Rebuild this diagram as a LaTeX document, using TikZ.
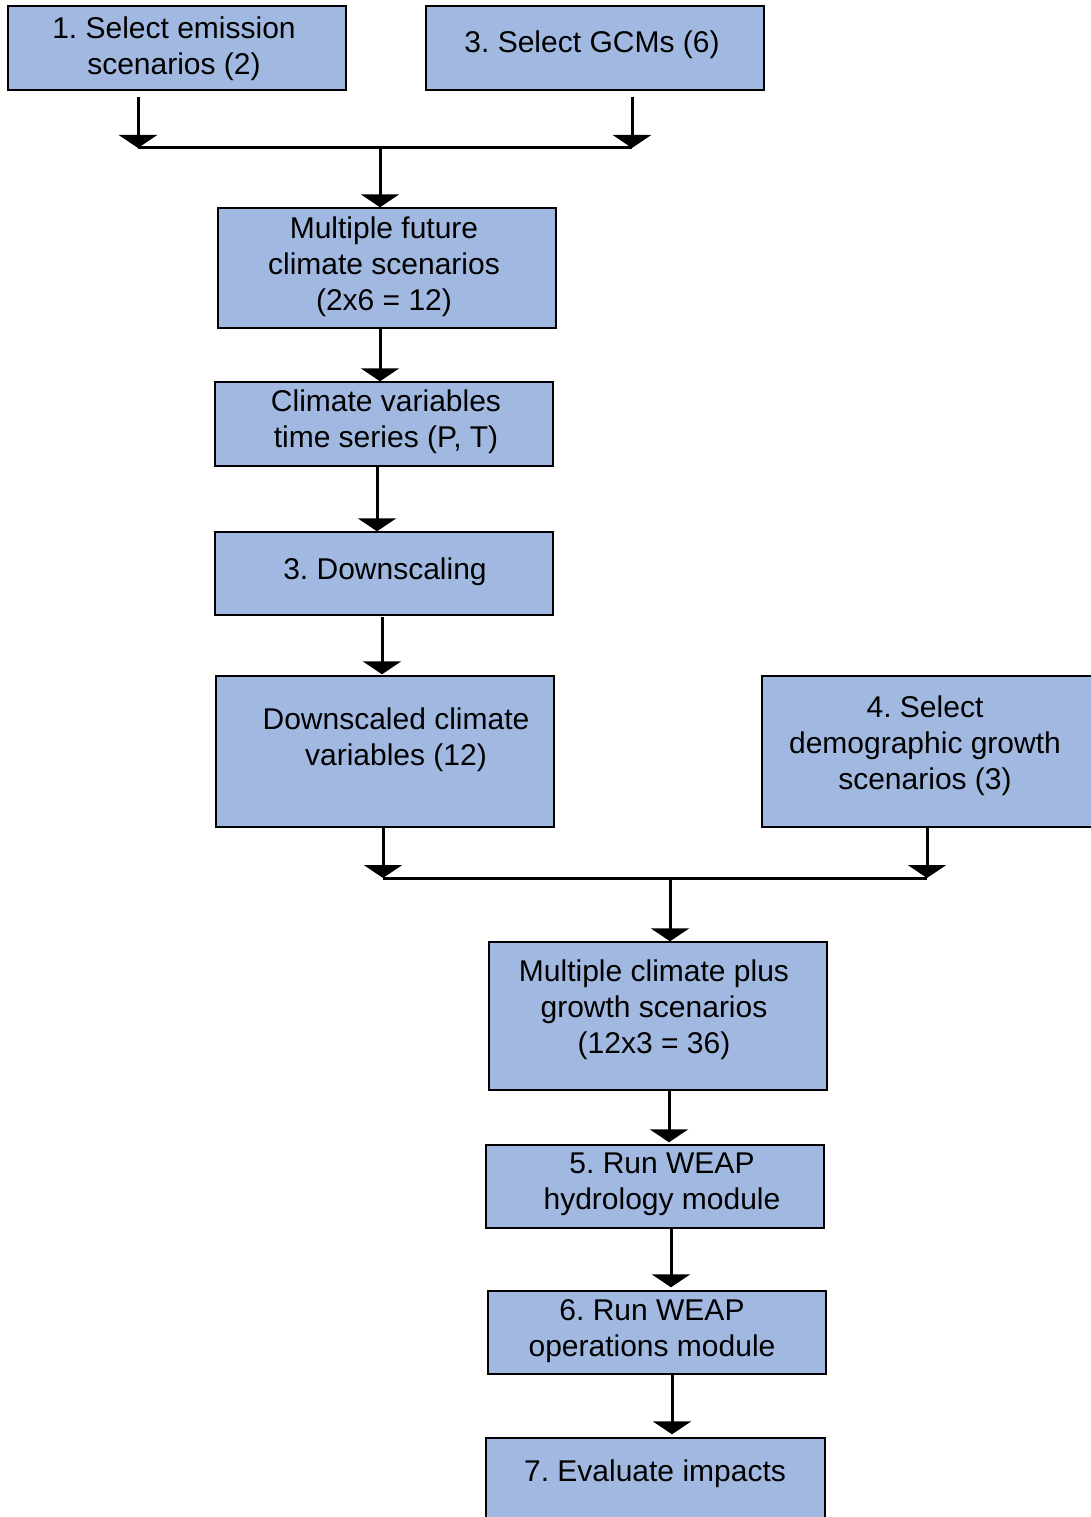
\documentclass[tikz,border=0pt]{standalone}
\usepackage{fontspec}
\setmainfont{Liberation Sans}
\frenchspacing
\usetikzlibrary{arrows.meta}
\definecolor{boxblue}{RGB}{161,185,224}

\begin{document}
\begin{tikzpicture}[x=1pt, y=-1pt,
  box/.style={rectangle, draw=black, fill=boxblue, line width=1.4pt, inner sep=0pt},
  txt/.style={align=center, inner sep=0pt, font=\fontsize{30}{36}\selectfont},
  arr/.style={line width=3pt, -{Triangle[width=38pt,length=13pt]}},
  bar/.style={line width=3pt}]
\useasboundingbox (0,0) rectangle (1090,1517);
% boxes
\node[box, minimum width=338, minimum height=84] (emis) at (177,48) {};
\node[box, minimum width=338, minimum height=84] (gcm) at (595,48) {};
\node[box, minimum width=338, minimum height=120] (future) at (387,268) {};
\node[box, minimum width=338, minimum height=84] (vars) at (384,424) {};
\node[box, minimum width=338, minimum height=83] (down) at (384,573.5) {};
\node[box, minimum width=338, minimum height=151] (dvars) at (385,751.5) {};
\node[box, minimum width=332, minimum height=151] (demo) at (928,751.5) {};
\node[box, minimum width=338, minimum height=148] (plus) at (658,1016) {};
\node[box, minimum width=338, minimum height=83] (hydro) at (655,1186.5) {};
\node[box, minimum width=338, minimum height=83] (oper) at (657,1332.5) {};
\node[box, minimum width=339, minimum height=110] (eval) at (655.5,1493) {};
% texts
\node[txt] (emis-t) at (174,49) {1. Select emission\\scenarios (2)};
\node[txt] (gcm-t) at (592,45) {3. Select GCMs (6)};
\node[txt] (future-t) at (384,267) {Multiple future\\climate scenarios\\(2x6 = 12)};
\node[txt] (vars-t) at (386,422) {Climate variables\\time series (P, T)};
\node[txt] (down-t) at (385,572) {3. Downscaling};
\node[txt] (dvars-t) at (396,740) {Downscaled climate\\variables (12)};
\node[txt] (demo-t) at (925,746) {4. Select\\demographic growth\\scenarios (3)};
\node[txt] (plus-t) at (654,1010) {Multiple climate plus\\growth scenarios\\(12x3 = 36)};
\node[txt] (hydro-t) at (662,1184) {5. Run WEAP\\hydrology module};
\node[txt] (oper-t) at (652,1331) {6. Run WEAP\\operations module};
\node[txt] (eval-t) at (655,1474) {7. Evaluate impacts};
% joins
\coordinate (j1l) at (138,148);
\coordinate (j1r) at (632,148);
\coordinate (j1) at (380,148);
\coordinate (j2l) at (383,878);
\coordinate (j2r) at (927,878);
\coordinate (j2) at (670,878);
% top merge
\draw[arr] (emis.south -| j1l) ++(0,6) -- (j1l);
\draw[arr] (gcm.south -| j1r) ++(0,6) -- (j1r);
\draw[bar] (j1l) -- (j1r);
\draw[arr] (j1) -- (j1 |- future.north);
\draw[arr] (future.south -| 380,0) -- (vars.north -| 380,0);
\draw[arr] (vars.south -| 377,0) -- (down.north -| 377,0);
\draw[arr] ([yshift=-1.5]down.south -| 382,0) -- ([yshift=1]dvars.north -| 382,0);
% second merge
\draw[arr] (dvars.south -| j2l) -- (j2l);
\draw[arr] (demo.south -| j2r) -- (j2r);
\draw[bar] (j2l) -- (j2r);
\draw[arr] (j2) -- (j2 |- plus.north);
\draw[arr] (plus.south -| 669,0) -- ([yshift=2]hydro.north -| 669,0);
\draw[arr] (hydro.south -| 671,0) -- ([yshift=3]oper.north -| 671,0);
\draw[arr] (oper.south -| 672,0) -- ([yshift=3]eval.north -| 672,0);
\end{tikzpicture}
\end{document}
